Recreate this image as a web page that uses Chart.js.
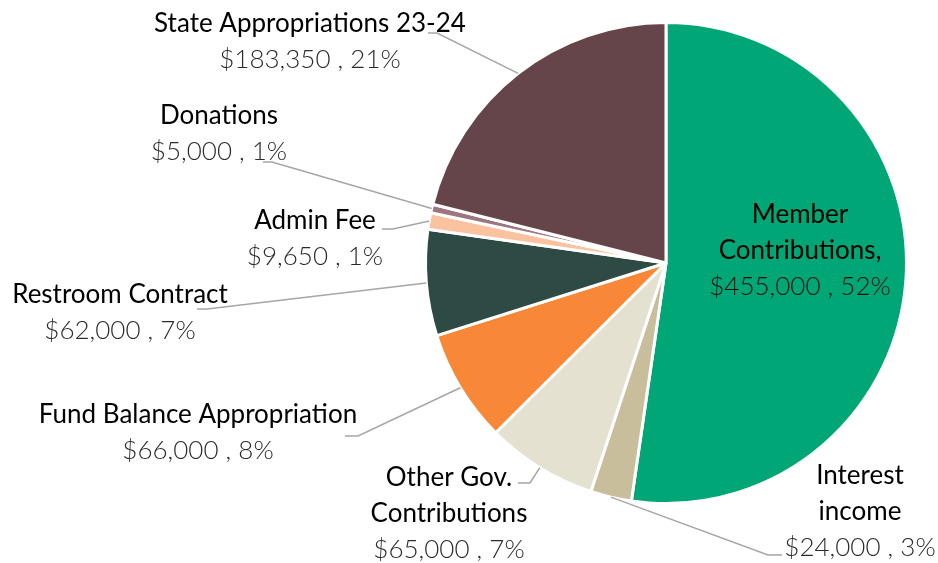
<!DOCTYPE html>
<html>
<head>
<meta charset="utf-8">
<script src="https://cdn.jsdelivr.net/npm/chart.js@4.4.1/dist/chart.umd.min.js"></script>
<style>
  html, body { margin: 0; padding: 0; background: #fff; }
  #wrap { width: 938px; height: 563px; }
</style>
</head>
<body>
<div id="wrap"><canvas id="myChart" width="938" height="563"></canvas></div>
<script>
// data
const categories = [
    'Member Contributions,',
    'Interest income',
    'Other Gov. Contributions',
    'Fund Balance Appropriation',
    'Restroom Contract',
    'Admin Fee',
    'Donations',
    'State Appropriations 23-24'
];
const amounts = [455000, 24000, 65000, 66000, 62000, 9650, 5000, 183350];
const sliceColors = ['#00A676', '#C8BE9C', '#E4E1D1', '#F88837', '#2E4A44', '#FBC29F', '#9D7780', '#654549'];

// how each label is wrapped and where it sits (layout only)
const labelLines = [
    ['Member', 'Contributions,'],
    ['Interest', 'income'],
    ['Other Gov.', 'Contributions'],
    ['Fund Balance Appropriation'],
    ['Restroom Contract'],
    ['Admin Fee'],
    ['Donations'],
    ['State Appropriations 23-24']
];
const labelLayout = [
    { x: 800, y: 215, leader: null, valueColor: '#111' },
    { x: 860, y: 476, leader: [[768, 555], [782, 555]] },
    { x: 449, y: 478, leader: [[530, 483], [518, 483]] },
    { x: 198, y: 415, leader: [[358, 436], [345, 436]] },
    { x: 120, y: 295, leader: [[207, 309], [197, 309]] },
    { x: 315, y: 221, leader: [[393, 229], [382, 229]] },
    { x: 219, y: 116, leader: [[272, 162], [263, 162]] },
    { x: 310, y: 24, leader: [[437, 33], [428, 33]] }
];

const total = amounts.reduce((a, b) => a + b, 0);
const fmtMoney = v => '$' + v.toLocaleString('en-US');
const fmtPct = v => Math.round(v / total * 100) + '%';

const lineHeight = 36;

const pieLabels = {
    id: 'pieLabels',
    afterDraw(chart) {
        const ctx = chart.ctx;
        const arcs = chart.getDatasetMeta(0).data;
        ctx.save();
        arcs.forEach((arc, i) => {
            const lay = labelLayout[i];
            const { x, y, outerRadius, startAngle, endAngle } = arc.getProps(['x', 'y', 'outerRadius', 'startAngle', 'endAngle'], true);
            if (lay.leader) {
                const mid = (startAngle + endAngle) / 2;
                ctx.beginPath();
                ctx.moveTo(x + Math.cos(mid) * outerRadius, y + Math.sin(mid) * outerRadius);
                lay.leader.forEach(p => ctx.lineTo(p[0], p[1]));
                ctx.strokeStyle = '#A6A6A6';
                ctx.lineWidth = 1.5;
                ctx.stroke();
            }
            ctx.textAlign = 'center';
            ctx.textBaseline = 'middle';
            const lines = labelLines[i];
            ctx.fillStyle = '#000';
            ctx.font = '400 26px Lato';
            lines.forEach((t, k) => ctx.fillText(t, lay.x, lay.y + k * lineHeight));
            ctx.fillStyle = lay.valueColor || '#2b2b2b';
            ctx.font = '300 26px Lato';
            ctx.fillText(fmtMoney(amounts[i]) + ' , ' + fmtPct(amounts[i]), lay.x, lay.y + lines.length * lineHeight);
        });
        ctx.restore();
    }
};

new Chart(document.getElementById('myChart'), {
    type: 'pie',
    data: {
        labels: categories,
        datasets: [{
            data: amounts,
            backgroundColor: sliceColors,
            borderColor: '#fff',
            borderWidth: 3
        }]
    },
    options: {
        responsive: false,
        animation: false,
        layout: { padding: { left: 424, right: 30, top: 21, bottom: 58 } },
        plugins: {
            legend: { display: false },
            tooltip: { enabled: false }
        }
    },
    plugins: [pieLabels]
});
</script>
</body>
</html>
